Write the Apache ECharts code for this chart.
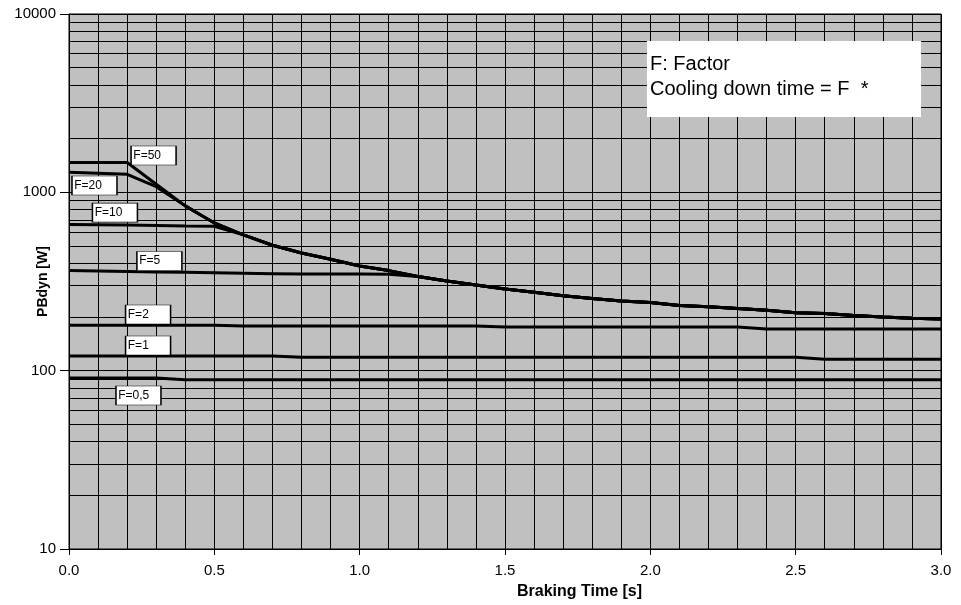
<!DOCTYPE html>
<html>
<head>
<meta charset="utf-8">
<script src="https://cdn.jsdelivr.net/npm/echarts@6/dist/echarts.min.js"></script>
<style>
  html, body { margin: 0; padding: 0; background: #fff; }
  #chart { width: 961px; height: 605px; }
</style>
</head>
<body>
<div id="chart"></div>
<script>
// braking time [s]
const times = [0.0, 0.1, 0.2, 0.3, 0.4, 0.5, 0.6, 0.7, 0.8, 0.9,
               1.0, 1.1, 1.2, 1.3, 1.4, 1.5, 1.6, 1.7, 1.8, 1.9,
               2.0, 2.1, 2.2, 2.3, 2.4, 2.5, 2.6, 2.7, 2.8, 2.9, 3.0];

// PBdyn [W] per factor F
const f50 = [1470, 1470, 1470, 1110, 840, 673, 577, 505, 457, 421,
             386, 364, 337, 318, 302, 287, 275, 263, 254, 246,
             241, 232, 228, 223, 218, 211, 209, 204, 200, 197, 195];
const f20 = [1295, 1280, 1262, 1075, 840, 673, 577, 505, 457, 421,
             386, 364, 337, 318, 302, 287, 275, 263, 254, 246,
             241, 232, 228, 223, 218, 211, 209, 204, 200, 197, 195];
const f10 = [660, 658, 655, 652, 648, 645, 577, 505, 457, 421,
             386, 364, 337, 318, 302, 287, 275, 263, 254, 246,
             241, 232, 228, 223, 218, 211, 209, 204, 200, 197, 195];
const f5 = [364, 362, 360, 358, 356, 354, 352, 350, 348, 348,
            348, 347, 337, 318, 302, 287, 275, 263, 254, 246,
            241, 232, 228, 223, 218, 211, 209, 204, 200, 197, 195];
const f2 = [180, 180, 180, 180, 180, 180, 178, 178, 178, 178,
            178, 178, 178, 178, 178, 176, 176, 176, 176, 176,
            176, 176, 176, 176, 171, 171, 171, 171, 171, 171, 171];
const f1 = [121, 121, 121, 121, 121, 121, 121, 121, 119, 119,
            119, 119, 119, 119, 119, 119, 119, 119, 119, 119,
            119, 119, 119, 119, 119, 119, 116, 116, 116, 116, 116];
const f05 = [91, 91, 91, 91, 89, 89, 89, 89, 89, 89,
             89, 89, 89, 89, 89, 89, 89, 89, 89, 89,
             89, 89, 89, 89, 89, 89, 89, 89, 89, 89, 89];

const seriesNames = ['F=0,5', 'F=1', 'F=2', 'F=5', 'F=10', 'F=20', 'F=50'];
const seriesValues = [f05, f1, f2, f5, f10, f20, f50];

// where each F= box sits, in chart units [s, W]
const boxAnchors = [[0.239, 72.6], [0.272, 138.4], [0.272, 206.5], [0.311, 412],
                    [0.158, 770], [0.0877, 1092], [0.291, 1609]];

// log minor grid values
const minorGrid = [20, 30, 40, 50, 60, 70, 80, 90,
                   200, 300, 400, 500, 600, 700, 800, 900,
                   2000, 3000, 4000, 5000, 6000, 7000, 8000, 9000];

const FONT = '"Liberation Sans", Arial, sans-serif';

let chart = echarts.init(document.getElementById('chart'));

let series = seriesNames.map(function (name, i) {
    return {
        name: name,
        type: 'line',
        data: times.map(function (t, j) { return [t, seriesValues[i][j]]; }),
        symbol: 'none',
        lineStyle: { color: '#000', width: 3 },
        z: 3,
        markPoint: {
            silent: true,
            symbol: 'rect',
            symbolSize: [45, 19],
            itemStyle: { color: '#fff', borderColor: '#000', borderWidth: 1 },
            label: {
                show: true,
                position: 'insideLeft',
                distance: 3,
                formatter: name,
                color: '#000',
                fontSize: 12,
                fontFamily: FONT
            },
            data: [{ coord: boxAnchors[i] }]
        }
    };
});

series.unshift({
    name: 'grid',
    type: 'line',
    data: [],
    z: 1,
    markLine: {
        silent: true,
        symbol: 'none',
        label: { show: false },
        lineStyle: { color: '#000', width: 1, type: 'solid' },
        data: minorGrid.map(function (v) { return { yAxis: v }; })
    }
});

chart.setOption({
    animation: false,
    grid: {
        left: 69, right: 20, top: 14, bottom: 56,
        containLabel: false,
        outerBoundsMode: 'none',
        show: true,
        backgroundColor: '#c0c0c0',
        borderColor: '#000',
        borderWidth: 1
    },
    xAxis: {
        type: 'value',
        min: 0,
        max: 3,
        interval: 0.5,
        axisLine: { lineStyle: { color: '#000', width: 1 } },
        axisTick: { show: true, length: 6, lineStyle: { color: '#000' } },
        axisLabel: {
            color: '#000', fontSize: 15, fontFamily: FONT, margin: 14,
            formatter: function (v) { return v.toFixed(1); }
        },
        splitLine: { show: true, lineStyle: { color: '#000', width: 1 } },
        minorTick: { show: true, splitNumber: 5, length: 0 },
        minorSplitLine: { show: true, lineStyle: { color: '#000', width: 1 } }
    },
    yAxis: {
        type: 'log',
        logBase: 10,
        min: 10,
        max: 10000,
        name: 'PBdyn [W]',
        nameLocation: 'middle',
        nameRotate: 90,
        nameGap: 19,
        nameMoveOverlap: false,
        nameTextStyle: { color: '#000', fontSize: 14, fontWeight: 'bold', fontFamily: FONT },
        axisLine: { show: true, lineStyle: { color: '#000', width: 1 } },
        axisTick: { show: true, length: 9, lineStyle: { color: '#000' } },
        axisLabel: {
            color: '#000', fontSize: 15, fontFamily: FONT, margin: 13,
            formatter: function (v) { return String(Math.round(v)); }
        },
        splitLine: { show: true, lineStyle: { color: '#000', width: 1 } }
    },
    graphic: [
        {
            type: 'text',
            left: 517,
            top: 584,
            z: 100,
            style: {
                text: 'Braking Time [s]',
                fill: '#000',
                font: 'bold 16px ' + FONT
            }
        },
        {
            type: 'group',
            left: 647,
            top: 41,
            z: 100,
            children: [
                {
                    type: 'rect',
                    z: 100,
                    shape: { x: 0, y: 0, width: 274, height: 76 },
                    style: { fill: '#fff' }
                },
                {
                    type: 'text',
                    z: 101,
                    x: 3, y: 13,
                    style: { text: 'F: Factor', fill: '#000', font: '20px ' + FONT }
                },
                {
                    type: 'text',
                    z: 101,
                    x: 3, y: 38,
                    style: { text: 'Cooling down time = F  *', fill: '#000', font: '20px ' + FONT }
                }
            ]
        }
    ],
    series: series
});
</script>
</body>
</html>
